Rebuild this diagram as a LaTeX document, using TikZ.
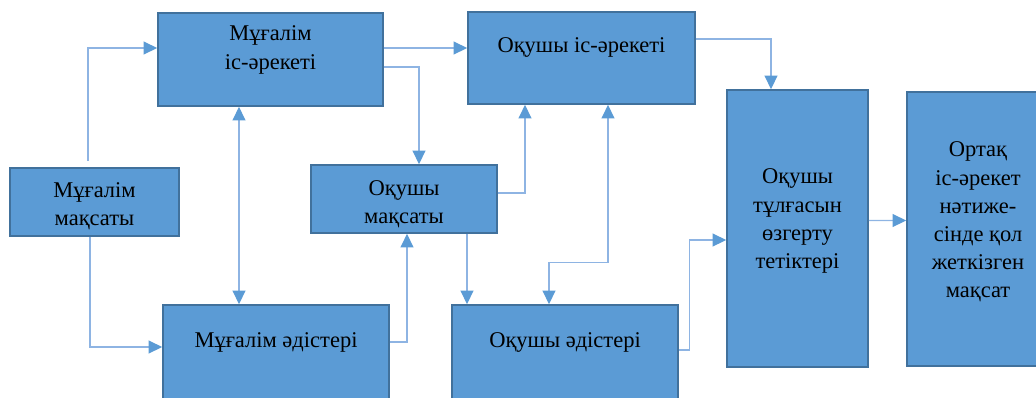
\documentclass[tikz,border=0pt]{standalone}
\usepackage{fontspec}
\setmainfont{Liberation Serif}
\newfontfamily\kzfont{Liberation Serif}
\usepackage{xcolor}
\usetikzlibrary{arrows.meta, positioning, calc}
\definecolor{boxfill}{HTML}{5B9BD5}
\definecolor{boxline}{HTML}{41719C}
\definecolor{linkline}{HTML}{8EB4E3}
\tikzset{
  blk/.style 2 args={rectangle, draw=boxline, fill=boxfill, line width=1.1pt,
              minimum width=#1*0.025cm, minimum height=#2*0.025cm, inner sep=0pt},
  lbl/.style={align=center, inner sep=0pt, font=\kzfont\fontsize{16}{20}\selectfont},
  tip/.style={-{Triangle[color=boxfill, length=0.34cm, width=0.32cm]}},
  conn/.style={draw=linkline, line width=1pt, tip},
  conn2/.style={draw=linkline, line width=1pt,
               {Triangle[color=boxfill, length=0.34cm, width=0.32cm]}-{Triangle[color=boxfill, length=0.34cm, width=0.32cm]}}
}

\begin{document}
\begin{tikzpicture}[x=0.025cm, y=-0.025cm]
  \useasboundingbox (0,0) rectangle (1036,397);

  % boxes
  \node[blk={225}{93}]  (mi) at (270.5,59.5) {};
  \node[blk={227}{92}]  (mo) at (581.5,58)   {};
  \node[blk={169}{68}]  (mm) at (94.5,202)   {};
  \node[blk={186}{68}]  (om) at (404,199)    {};
  \node[blk={226}{97}]  (me) at (276,353.5)  {};
  \node[blk={226}{97}]  (oe) at (565,353.5)  {};
  \node[blk={141}{277}] (ot) at (797.5,228.5) {};
  \node[blk={142}{274}] (nt) at (978,229)    {};

  % texts
  \node[lbl] (mi-t) at (270.5,50) {Мұғалім\\іс-әрекеті};
  \node[lbl, anchor=base] (mo-t) at (581.5,52) {Оқушы іс-әрекеті};
  \node[lbl] (mm-t) at (94.5,206) {Мұғалім\\мақсаты};
  \node[lbl] (om-t) at (404,204) {Оқушы\\мақсаты};
  \node[lbl, anchor=base] (me-t) at (276,347) {Мұғалім әдістері};
  \node[lbl, anchor=base] (oe-t) at (565,347) {Оқушы әдістері};
  \node[lbl] (ot-t) at (797.5,221) {Оқушы\\тұлғасын\\өзгерту\\тетіктері};
  \node[lbl] (nt-t) at (978,222) {Ортақ\\іс-әрекет\\нәтиже-\\сінде қол\\жеткізген\\мақсат};

  % connectors
  \draw[conn] ([shift={(-6.5,-6)}]mm.north) |- ([shift={(0,-11.5)}]mi.west);
  \draw[conn] ([shift={(-4.5,0)}]mm.south) |- ([shift={(0,-6.5)}]me.west);
  \draw[conn2] ([shift={(-31.5,0)}]mi.south) -- ([shift={(-37,0)}]me.north);
  \draw[conn] ([shift={(0,-11.5)}]mi.east) -- ([shift={(0,-10)}]mo.west);
  \draw[conn] ([shift={(0,7.5)}]mi.east) -| ([shift={(15,0)}]om.north);
  \draw[conn] ([shift={(0,-11.5)}]me.east) -| ([shift={(3,0)}]om.south);
  \draw[conn] ([shift={(0,-6)}]om.east) -| ([shift={(-56.5,0)}]mo.south);
  \draw[conn] ([shift={(63,0)}]om.south) -- ([shift={(-98,0)}]oe.north);
  \draw[conn2] ([shift={(26.5,0)}]mo.south) -- ++(0,158) -| ([shift={(-16,0)}]oe.north);
  \draw[conn] ([shift={(0,-19)}]mo.east) -| ([shift={(-26.5,0)}]ot.north);
  \draw[conn] ([shift={(0,-3.5)}]oe.east) -- ++(11,0) |- ([shift={(0,11.5)}]ot.west);
  \draw[conn] ([shift={(0,-8)}]ot.east) -- ([shift={(0,-8.5)}]nt.west);
\end{tikzpicture}
\end{document}
